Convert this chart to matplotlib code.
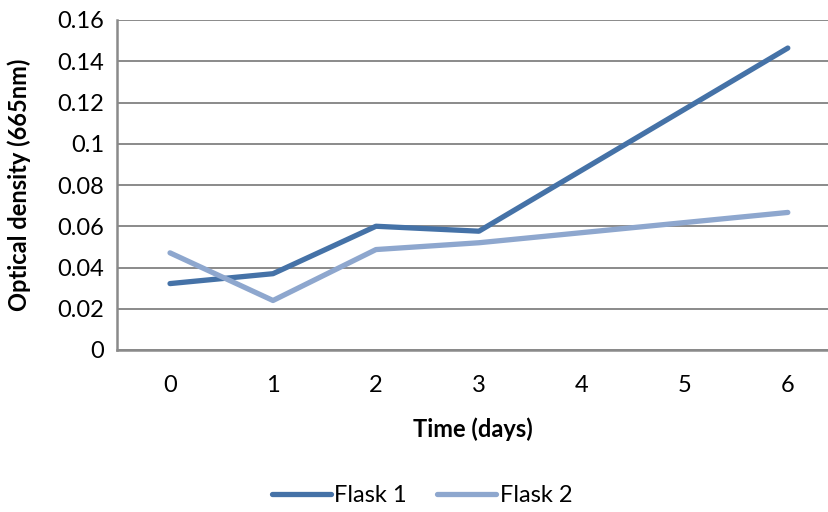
import matplotlib
matplotlib.use("Agg")
import matplotlib.pyplot as plt

days = [0, 1, 2, 3, 4, 5, 6]
flask1 = [0.0322, 0.0370, 0.0600, 0.0576, 0.0872, 0.1168, 0.1464]
flask2 = [0.0471, 0.0240, 0.0487, 0.0520, 0.0569, 0.0618, 0.0667]
yticks = [0, 0.02, 0.04, 0.06, 0.08, 0.1, 0.12, 0.14, 0.16]
ytick_labels = ["0", "0.02", "0.04", "0.06", "0.08", "0.1", "0.12", "0.14", "0.16"]

plt.rcParams['font.family'] = ['Lato', 'DejaVu Sans']
FS = 17

W, H = 829, 512
fig = plt.figure(figsize=(W/100, H/100), dpi=100)
ax = fig.add_axes([117/W, 1-350/H, (829-117)/W, (350-20)/H])

c1 = '#4572A7'
c2 = '#8EA7CE'
l1, = ax.plot(days, flask1, color=c1, lw=3.8, solid_capstyle='round', solid_joinstyle='round', label='Flask 1', zorder=3)
l2, = ax.plot(days, flask2, color=c2, lw=3.8, solid_capstyle='round', solid_joinstyle='round', label='Flask 2', zorder=3)

ax.set_xlim(-0.515, 6.4)
ax.set_ylim(0, 0.16)
ax.set_yticks(yticks)
ax.set_yticklabels(ytick_labels, fontsize=FS)
ax.set_xticks(days)
ax.set_xticklabels([str(d) for d in days], fontsize=FS)
ax.tick_params(axis='both', length=0, colors='black')
ax.tick_params(axis='y', pad=9)
ax.tick_params(axis='x', pad=18)
ax.grid(axis='y', color='#8a8a8a', lw=1.4)
ax.set_axisbelow(True)
for s in ['top', 'right']:
    ax.spines[s].set_visible(False)
for s in ['left', 'bottom']:
    ax.spines[s].set_color('#8a8a8a')
    ax.spines[s].set_linewidth(1.8)

ax.set_xlabel('Time (days)', fontsize=FS, fontweight='bold')
ax.set_ylabel('Optical density (665nm)', fontsize=FS, fontweight='bold')
ax.yaxis.set_label_coords(-86/712, 0.5)
ax.xaxis.set_label_coords(0.5, -67/330)

fig.legend(handles=[l1, l2], loc='center', bbox_to_anchor=(422/W, 1-496/H), ncol=2,
           frameon=False, fontsize=FS, handlelength=2.5, columnspacing=1.3, handletextpad=0.15)

fig.savefig('out.png', dpi=100)
